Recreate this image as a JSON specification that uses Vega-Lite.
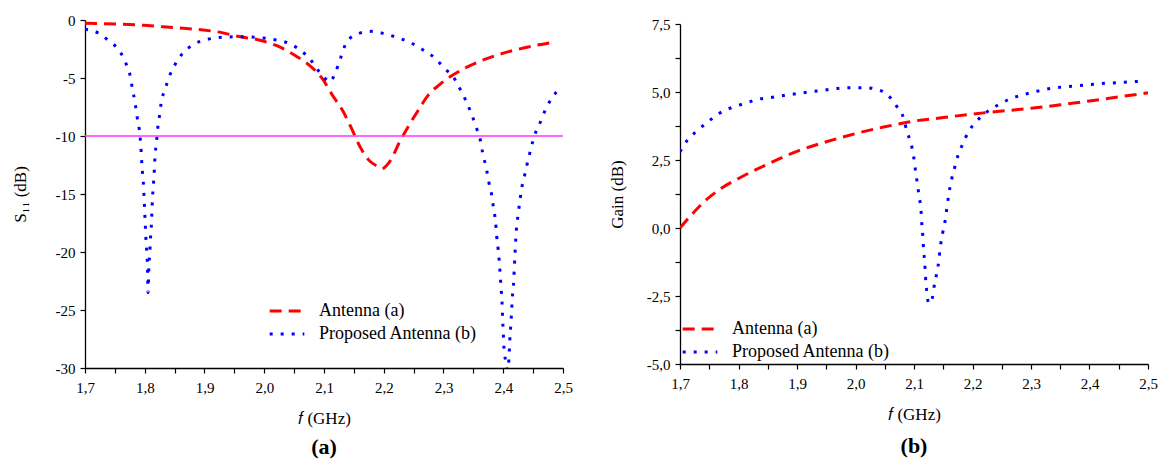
{
  "$schema": "https://vega.github.io/schema/vega-lite/v6.json",
  "background": "white",
  "padding": {"left": 11, "top": 13, "right": 5, "bottom": 2},
  "spacing": 117,
  "bounds": "flush",
  "center": true,
  "datasets": {
    "s11": [
      {"f": 1.700, "v": -0.29, "series": "Antenna (a)"},
      {"f": 1.7985, "v": -0.46, "series": "Antenna (a)"},
      {"f": 1.848, "v": -0.66, "series": "Antenna (a)"},
      {"f": 1.898, "v": -0.86, "series": "Antenna (a)"},
      {"f": 1.929, "v": -1.09, "series": "Antenna (a)"},
      {"f": 1.953, "v": -1.38, "series": "Antenna (a)"},
      {"f": 1.991, "v": -1.72, "series": "Antenna (a)"},
      {"f": 2.022, "v": -2.24, "series": "Antenna (a)"},
      {"f": 2.053, "v": -3.10, "series": "Antenna (a)"},
      {"f": 2.077, "v": -3.97, "series": "Antenna (a)"},
      {"f": 2.096, "v": -4.97, "series": "Antenna (a)"},
      {"f": 2.115, "v": -6.55, "series": "Antenna (a)"},
      {"f": 2.130, "v": -7.70, "series": "Antenna (a)"},
      {"f": 2.1455, "v": -9.28, "series": "Antenna (a)"},
      {"f": 2.161, "v": -11.0, "series": "Antenna (a)"},
      {"f": 2.1765, "v": -12.16, "series": "Antenna (a)"},
      {"f": 2.189, "v": -12.59, "series": "Antenna (a)"},
      {"f": 2.197, "v": -12.8, "series": "Antenna (a)"},
      {"f": 2.2105, "v": -12.16, "series": "Antenna (a)"},
      {"f": 2.226, "v": -10.57, "series": "Antenna (a)"},
      {"f": 2.2415, "v": -9.14, "series": "Antenna (a)"},
      {"f": 2.257, "v": -7.84, "series": "Antenna (a)"},
      {"f": 2.2755, "v": -6.41, "series": "Antenna (a)"},
      {"f": 2.294, "v": -5.55, "series": "Antenna (a)"},
      {"f": 2.313, "v": -4.83, "series": "Antenna (a)"},
      {"f": 2.3375, "v": -4.11, "series": "Antenna (a)"},
      {"f": 2.3625, "v": -3.53, "series": "Antenna (a)"},
      {"f": 2.3935, "v": -2.96, "series": "Antenna (a)"},
      {"f": 2.4245, "v": -2.53, "series": "Antenna (a)"},
      {"f": 2.4555, "v": -2.18, "series": "Antenna (a)"},
      {"f": 2.480, "v": -1.95, "series": "Antenna (a)"},
      {"f": 1.700, "v": -0.8, "series": "Proposed Antenna (b)"},
      {"f": 1.721, "v": -1.09, "series": "Proposed Antenna (b)"},
      {"f": 1.740, "v": -1.81, "series": "Proposed Antenna (b)"},
      {"f": 1.758, "v": -2.67, "series": "Proposed Antenna (b)"},
      {"f": 1.768, "v": -3.68, "series": "Proposed Antenna (b)"},
      {"f": 1.776, "v": -4.91, "series": "Proposed Antenna (b)"},
      {"f": 1.7795, "v": -5.98, "series": "Proposed Antenna (b)"},
      {"f": 1.784, "v": -7.18, "series": "Proposed Antenna (b)"},
      {"f": 1.787, "v": -8.28, "series": "Proposed Antenna (b)"},
      {"f": 1.791, "v": -9.51, "series": "Proposed Antenna (b)"},
      {"f": 1.793, "v": -10.57, "series": "Proposed Antenna (b)"},
      {"f": 1.7945, "v": -11.87, "series": "Proposed Antenna (b)"},
      {"f": 1.796, "v": -13.02, "series": "Proposed Antenna (b)"},
      {"f": 1.798, "v": -14.31, "series": "Proposed Antenna (b)"},
      {"f": 1.799, "v": -15.46, "series": "Proposed Antenna (b)"},
      {"f": 1.800, "v": -16.61, "series": "Proposed Antenna (b)"},
      {"f": 1.801, "v": -17.76, "series": "Proposed Antenna (b)"},
      {"f": 1.802, "v": -18.91, "series": "Proposed Antenna (b)"},
      {"f": 1.8035, "v": -20.06, "series": "Proposed Antenna (b)"},
      {"f": 1.8045, "v": -21.21, "series": "Proposed Antenna (b)"},
      {"f": 1.8055, "v": -23.5, "series": "Proposed Antenna (b)"},
      {"f": 1.807, "v": -21.21, "series": "Proposed Antenna (b)"},
      {"f": 1.8085, "v": -20.06, "series": "Proposed Antenna (b)"},
      {"f": 1.8095, "v": -18.91, "series": "Proposed Antenna (b)"},
      {"f": 1.811, "v": -17.76, "series": "Proposed Antenna (b)"},
      {"f": 1.813, "v": -15.32, "series": "Proposed Antenna (b)"},
      {"f": 1.8145, "v": -14.17, "series": "Proposed Antenna (b)"},
      {"f": 1.816, "v": -13.02, "series": "Proposed Antenna (b)"},
      {"f": 1.817, "v": -11.87, "series": "Proposed Antenna (b)"},
      {"f": 1.8195, "v": -10.63, "series": "Proposed Antenna (b)"},
      {"f": 1.8215, "v": -9.43, "series": "Proposed Antenna (b)"},
      {"f": 1.8245, "v": -8.33, "series": "Proposed Antenna (b)"},
      {"f": 1.8275, "v": -7.13, "series": "Proposed Antenna (b)"},
      {"f": 1.834, "v": -5.98, "series": "Proposed Antenna (b)"},
      {"f": 1.841, "v": -4.89, "series": "Proposed Antenna (b)"},
      {"f": 1.851, "v": -3.82, "series": "Proposed Antenna (b)"},
      {"f": 1.862, "v": -2.96, "series": "Proposed Antenna (b)"},
      {"f": 1.882, "v": -2.10, "series": "Proposed Antenna (b)"},
      {"f": 1.905, "v": -1.67, "series": "Proposed Antenna (b)"},
      {"f": 1.935, "v": -1.47, "series": "Proposed Antenna (b)"},
      {"f": 1.963, "v": -1.44, "series": "Proposed Antenna (b)"},
      {"f": 1.998, "v": -1.55, "series": "Proposed Antenna (b)"},
      {"f": 2.020, "v": -1.72, "series": "Proposed Antenna (b)"},
      {"f": 2.041, "v": -2.01, "series": "Proposed Antenna (b)"},
      {"f": 2.060, "v": -2.59, "series": "Proposed Antenna (b)"},
      {"f": 2.077, "v": -3.39, "series": "Proposed Antenna (b)"},
      {"f": 2.091, "v": -4.40, "series": "Proposed Antenna (b)"},
      {"f": 2.1065, "v": -5.26, "series": "Proposed Antenna (b)"},
      {"f": 2.109, "v": -5.35, "series": "Proposed Antenna (b)"},
      {"f": 2.118, "v": -4.68, "series": "Proposed Antenna (b)"},
      {"f": 2.127, "v": -3.39, "series": "Proposed Antenna (b)"},
      {"f": 2.1375, "v": -1.95, "series": "Proposed Antenna (b)"},
      {"f": 2.157, "v": -1.18, "series": "Proposed Antenna (b)"},
      {"f": 2.180, "v": -0.98, "series": "Proposed Antenna (b)"},
      {"f": 2.201, "v": -1.18, "series": "Proposed Antenna (b)"},
      {"f": 2.223, "v": -1.52, "series": "Proposed Antenna (b)"},
      {"f": 2.245, "v": -1.95, "series": "Proposed Antenna (b)"},
      {"f": 2.266, "v": -2.59, "series": "Proposed Antenna (b)"},
      {"f": 2.285, "v": -3.25, "series": "Proposed Antenna (b)"},
      {"f": 2.3005, "v": -4.11, "series": "Proposed Antenna (b)"},
      {"f": 2.319, "v": -5.11, "series": "Proposed Antenna (b)"},
      {"f": 2.328, "v": -5.98, "series": "Proposed Antenna (b)"},
      {"f": 2.339, "v": -7.13, "series": "Proposed Antenna (b)"},
      {"f": 2.347, "v": -8.13, "series": "Proposed Antenna (b)"},
      {"f": 2.356, "v": -9.43, "series": "Proposed Antenna (b)"},
      {"f": 2.362, "v": -10.43, "series": "Proposed Antenna (b)"},
      {"f": 2.3655, "v": -11.44, "series": "Proposed Antenna (b)"},
      {"f": 2.372, "v": -12.87, "series": "Proposed Antenna (b)"},
      {"f": 2.376, "v": -14.02, "series": "Proposed Antenna (b)"},
      {"f": 2.381, "v": -15.17, "series": "Proposed Antenna (b)"},
      {"f": 2.384, "v": -16.32, "series": "Proposed Antenna (b)"},
      {"f": 2.387, "v": -17.33, "series": "Proposed Antenna (b)"},
      {"f": 2.389, "v": -18.62, "series": "Proposed Antenna (b)"},
      {"f": 2.3915, "v": -19.77, "series": "Proposed Antenna (b)"},
      {"f": 2.3935, "v": -20.92, "series": "Proposed Antenna (b)"},
      {"f": 2.395, "v": -22.07, "series": "Proposed Antenna (b)"},
      {"f": 2.3965, "v": -23.22, "series": "Proposed Antenna (b)"},
      {"f": 2.398, "v": -24.37, "series": "Proposed Antenna (b)"},
      {"f": 2.3988, "v": -25.52, "series": "Proposed Antenna (b)"},
      {"f": 2.400, "v": -26.95, "series": "Proposed Antenna (b)"},
      {"f": 2.401, "v": -28.1, "series": "Proposed Antenna (b)"},
      {"f": 2.404, "v": -29.4, "series": "Proposed Antenna (b)"},
      {"f": 2.407, "v": -30.2, "series": "Proposed Antenna (b)"},
      {"f": 2.4095, "v": -29.25, "series": "Proposed Antenna (b)"},
      {"f": 2.411, "v": -27.53, "series": "Proposed Antenna (b)"},
      {"f": 2.4125, "v": -26.38, "series": "Proposed Antenna (b)"},
      {"f": 2.414, "v": -25.09, "series": "Proposed Antenna (b)"},
      {"f": 2.415, "v": -24.08, "series": "Proposed Antenna (b)"},
      {"f": 2.417, "v": -22.93, "series": "Proposed Antenna (b)"},
      {"f": 2.4195, "v": -20.34, "series": "Proposed Antenna (b)"},
      {"f": 2.422, "v": -18.05, "series": "Proposed Antenna (b)"},
      {"f": 2.4245, "v": -16.9, "series": "Proposed Antenna (b)"},
      {"f": 2.4275, "v": -15.75, "series": "Proposed Antenna (b)"},
      {"f": 2.4305, "v": -14.6, "series": "Proposed Antenna (b)"},
      {"f": 2.4355, "v": -13.45, "series": "Proposed Antenna (b)"},
      {"f": 2.4405, "v": -12.3, "series": "Proposed Antenna (b)"},
      {"f": 2.446, "v": -11.15, "series": "Proposed Antenna (b)"},
      {"f": 2.452, "v": -10.0, "series": "Proposed Antenna (b)"},
      {"f": 2.4605, "v": -8.99, "series": "Proposed Antenna (b)"},
      {"f": 2.471, "v": -7.7, "series": "Proposed Antenna (b)"},
      {"f": 2.480, "v": -6.84, "series": "Proposed Antenna (b)"},
      {"f": 2.4955, "v": -5.83, "series": "Proposed Antenna (b)"}
    ],
    "threshold": [{"level": -10}],
    "gain": [
      {"f": 1.700, "v": 0.0, "series": "Antenna (a)"},
      {"f": 1.719, "v": 0.47, "series": "Antenna (a)"},
      {"f": 1.744, "v": 1.02, "series": "Antenna (a)"},
      {"f": 1.770, "v": 1.45, "series": "Antenna (a)"},
      {"f": 1.800, "v": 1.82, "series": "Antenna (a)"},
      {"f": 1.850, "v": 2.35, "series": "Antenna (a)"},
      {"f": 1.900, "v": 2.82, "series": "Antenna (a)"},
      {"f": 1.950, "v": 3.17, "series": "Antenna (a)"},
      {"f": 2.000, "v": 3.47, "series": "Antenna (a)"},
      {"f": 2.050, "v": 3.72, "series": "Antenna (a)"},
      {"f": 2.100, "v": 3.93, "series": "Antenna (a)"},
      {"f": 2.150, "v": 4.06, "series": "Antenna (a)"},
      {"f": 2.200, "v": 4.19, "series": "Antenna (a)"},
      {"f": 2.250, "v": 4.30, "series": "Antenna (a)"},
      {"f": 2.300, "v": 4.40, "series": "Antenna (a)"},
      {"f": 2.350, "v": 4.53, "series": "Antenna (a)"},
      {"f": 2.400, "v": 4.67, "series": "Antenna (a)"},
      {"f": 2.450, "v": 4.82, "series": "Antenna (a)"},
      {"f": 2.500, "v": 4.97, "series": "Antenna (a)"},
      {"f": 1.700, "v": 2.80, "series": "Proposed Antenna (b)"},
      {"f": 1.7127, "v": 3.23, "series": "Proposed Antenna (b)"},
      {"f": 1.7285, "v": 3.56, "series": "Proposed Antenna (b)"},
      {"f": 1.7475, "v": 3.90, "series": "Proposed Antenna (b)"},
      {"f": 1.7666, "v": 4.21, "series": "Proposed Antenna (b)"},
      {"f": 1.7887, "v": 4.43, "series": "Proposed Antenna (b)"},
      {"f": 1.8109, "v": 4.58, "series": "Proposed Antenna (b)"},
      {"f": 1.8331, "v": 4.73, "series": "Proposed Antenna (b)"},
      {"f": 1.8553, "v": 4.80, "series": "Proposed Antenna (b)"},
      {"f": 1.8775, "v": 4.87, "series": "Proposed Antenna (b)"},
      {"f": 1.8997, "v": 4.94, "series": "Proposed Antenna (b)"},
      {"f": 1.9231, "v": 5.01, "series": "Proposed Antenna (b)"},
      {"f": 1.9472, "v": 5.07, "series": "Proposed Antenna (b)"},
      {"f": 1.9694, "v": 5.13, "series": "Proposed Antenna (b)"},
      {"f": 1.9916, "v": 5.16, "series": "Proposed Antenna (b)"},
      {"f": 2.0151, "v": 5.16, "series": "Proposed Antenna (b)"},
      {"f": 2.036, "v": 5.10, "series": "Proposed Antenna (b)"},
      {"f": 2.055, "v": 4.89, "series": "Proposed Antenna (b)"},
      {"f": 2.0708, "v": 4.46, "series": "Proposed Antenna (b)"},
      {"f": 2.0823, "v": 4.03, "series": "Proposed Antenna (b)"},
      {"f": 2.088, "v": 3.54, "series": "Proposed Antenna (b)"},
      {"f": 2.0949, "v": 3.11, "series": "Proposed Antenna (b)"},
      {"f": 2.0994, "v": 2.62, "series": "Proposed Antenna (b)"},
      {"f": 2.1025, "v": 2.12, "series": "Proposed Antenna (b)"},
      {"f": 2.1057, "v": 1.63, "series": "Proposed Antenna (b)"},
      {"f": 2.1089, "v": 1.14, "series": "Proposed Antenna (b)"},
      {"f": 2.112, "v": 0.65, "series": "Proposed Antenna (b)"},
      {"f": 2.1133, "v": 0.16, "series": "Proposed Antenna (b)"},
      {"f": 2.1152, "v": -0.33, "series": "Proposed Antenna (b)"},
      {"f": 2.1165, "v": -0.82, "series": "Proposed Antenna (b)"},
      {"f": 2.1184, "v": -1.31, "series": "Proposed Antenna (b)"},
      {"f": 2.1197, "v": -1.80, "series": "Proposed Antenna (b)"},
      {"f": 2.1216, "v": -2.30, "series": "Proposed Antenna (b)"},
      {"f": 2.1255, "v": -2.78, "series": "Proposed Antenna (b)"},
      {"f": 2.131, "v": -2.60, "series": "Proposed Antenna (b)"},
      {"f": 2.1342, "v": -2.17, "series": "Proposed Antenna (b)"},
      {"f": 2.1387, "v": -1.68, "series": "Proposed Antenna (b)"},
      {"f": 2.1425, "v": -1.19, "series": "Proposed Antenna (b)"},
      {"f": 2.145, "v": -0.70, "series": "Proposed Antenna (b)"},
      {"f": 2.1488, "v": -0.21, "series": "Proposed Antenna (b)"},
      {"f": 2.1533, "v": 0.28, "series": "Proposed Antenna (b)"},
      {"f": 2.1564, "v": 0.77, "series": "Proposed Antenna (b)"},
      {"f": 2.1596, "v": 1.26, "series": "Proposed Antenna (b)"},
      {"f": 2.164, "v": 1.76, "series": "Proposed Antenna (b)"},
      {"f": 2.1691, "v": 2.19, "series": "Proposed Antenna (b)"},
      {"f": 2.1754, "v": 2.68, "series": "Proposed Antenna (b)"},
      {"f": 2.1837, "v": 3.11, "series": "Proposed Antenna (b)"},
      {"f": 2.1932, "v": 3.54, "series": "Proposed Antenna (b)"},
      {"f": 2.2059, "v": 3.90, "series": "Proposed Antenna (b)"},
      {"f": 2.2249, "v": 4.27, "series": "Proposed Antenna (b)"},
      {"f": 2.2452, "v": 4.54, "series": "Proposed Antenna (b)"},
      {"f": 2.2661, "v": 4.76, "series": "Proposed Antenna (b)"},
      {"f": 2.2883, "v": 4.91, "series": "Proposed Antenna (b)"},
      {"f": 2.3105, "v": 5.03, "series": "Proposed Antenna (b)"},
      {"f": 2.3339, "v": 5.13, "series": "Proposed Antenna (b)"},
      {"f": 2.3561, "v": 5.19, "series": "Proposed Antenna (b)"},
      {"f": 2.3802, "v": 5.23, "series": "Proposed Antenna (b)"},
      {"f": 2.4036, "v": 5.28, "series": "Proposed Antenna (b)"},
      {"f": 2.4258, "v": 5.32, "series": "Proposed Antenna (b)"},
      {"f": 2.448, "v": 5.34, "series": "Proposed Antenna (b)"},
      {"f": 2.4734, "v": 5.38, "series": "Proposed Antenna (b)"},
      {"f": 2.4956, "v": 5.40, "series": "Proposed Antenna (b)"}
    ]
  },
  "config": {
    "view": {"stroke": null},
    "font": "Liberation Serif",
    "axis": {
      "labelFont": "Liberation Serif", "labelFontSize": 15, "labelColor": "black",
      "titleFont": "Liberation Serif", "titleFontSize": 17, "titleFontWeight": "normal", "titleColor": "black",
      "domainColor": "black", "domainWidth": 1.3, "tickColor": "black", "tickWidth": 1.2, "tickSize": 5,
      "grid": false, "labelOverlap": false, "labelFlush": false, "labelPadding": 7
    },
    "legend": {
      "labelFont": "Liberation Serif", "labelFontSize": 18, "labelColor": "black",
      "symbolType": "stroke", "symbolStrokeWidth": 3, "symbolSize": 1200,
      "labelOffset": 13, "rowPadding": 5, "clipHeight": 18, "padding": 0
    }
  },
  "resolve": {
    "scale": {"color": "independent", "strokeDash": "independent"},
    "legend": {"color": "independent", "strokeDash": "independent"}
  },
  "hconcat": [
    {
      "width": 478, "height": 348,
      "title": {"text": "(a)", "orient": "bottom", "offset": 10, "font": "Liberation Serif", "fontSize": 22, "fontWeight": "bold", "color": "black"},
      "layer": [
        {
          "data": {"name": "s11"},
          "mark": {"type": "line", "strokeWidth": 3, "interpolate": "monotone", "clip": true},
          "encoding": {
            "x": {"field": "f", "type": "quantitative",
              "scale": {"domain": [1.7, 2.5], "nice": false, "zero": false},
              "axis": {"title": "𝑓 (GHz)", "titlePadding": 15.5,
                "values": [1.7, 1.75, 1.8, 1.85, 1.9, 1.95, 2.0, 2.05, 2.1, 2.15, 2.2, 2.25, 2.3, 2.35, 2.4, 2.45, 2.5],
                "labelExpr": "round(datum.value*100) % 10 == 0 ? replace(format(datum.value, '.1f'), '.', ',') : ''"}},
            "y": {"field": "v", "type": "quantitative",
              "scale": {"domain": [-30, 0], "nice": false, "zero": false},
              "axis": {"title": "S₁₁ (dB)", "titlePadding": 26, "labelPadding": 5,
                "values": [-30, -27.5, -25, -22.5, -20, -17.5, -15, -12.5, -10, -7.5, -5, -2.5, 0],
                "labelExpr": "datum.value % 5 == 0 ? '' + datum.value : ''"}},
            "color": {"field": "series", "type": "nominal",
              "scale": {"domain": ["Antenna (a)", "Proposed Antenna (b)"], "range": ["#ff0000", "#0000ff"]},
              "legend": {"title": null, "orient": "none", "legendX": 183, "legendY": 282}},
            "strokeDash": {"field": "series", "type": "nominal",
              "scale": {"domain": ["Antenna (a)", "Proposed Antenna (b)"], "range": [[12, 7], [3, 8]]},
              "legend": {"title": null, "orient": "none", "legendX": 183, "legendY": 282}}
          }
        },
        {
          "data": {"name": "threshold"},
          "mark": {"type": "rule", "color": "#ff33ff", "strokeWidth": 1.5},
          "encoding": {"y": {"field": "level", "type": "quantitative"}}
        }
      ]
    },
    {
      "width": 468, "height": 340,
      "title": {"text": "(b)", "orient": "bottom", "offset": 13.5, "font": "Liberation Serif", "fontSize": 22, "fontWeight": "bold", "color": "black"},
      "data": {"name": "gain"},
      "mark": {"type": "line", "strokeWidth": 3, "interpolate": "monotone", "clip": true},
      "encoding": {
        "x": {"field": "f", "type": "quantitative",
          "scale": {"domain": [1.7, 2.5], "nice": false, "zero": false},
          "axis": {"title": "𝑓 (GHz)", "titlePadding": 15.5,
            "values": [1.7, 1.75, 1.8, 1.85, 1.9, 1.95, 2.0, 2.05, 2.1, 2.15, 2.2, 2.25, 2.3, 2.35, 2.4, 2.45, 2.5],
            "labelExpr": "round(datum.value*100) % 10 == 0 ? replace(format(datum.value, '.1f'), '.', ',') : ''"}},
        "y": {"field": "v", "type": "quantitative",
          "scale": {"domain": [-5, 7.5], "nice": false, "zero": false},
          "axis": {"title": "Gain (dB)", "titlePadding": 20, "labelPadding": 5,
            "values": [-5, -3.75, -2.5, -1.25, 0, 1.25, 2.5, 3.75, 5, 6.25, 7.5],
            "labelExpr": "round(datum.value*100) % 250 == 0 ? replace(replace(format(datum.value, '.1f'), '.', ','), '\u2212', '-') : ''"}},
        "color": {"field": "series", "type": "nominal",
          "scale": {"domain": ["Antenna (a)", "Proposed Antenna (b)"], "range": ["#ff0000", "#0000ff"]},
          "legend": {"title": null, "orient": "none", "legendX": 1, "legendY": 296}},
        "strokeDash": {"field": "series", "type": "nominal",
          "scale": {"domain": ["Antenna (a)", "Proposed Antenna (b)"], "range": [[12, 7], [3, 8]]},
          "legend": {"title": null, "orient": "none", "legendX": 1, "legendY": 296}}
      }
    }
  ]
}
